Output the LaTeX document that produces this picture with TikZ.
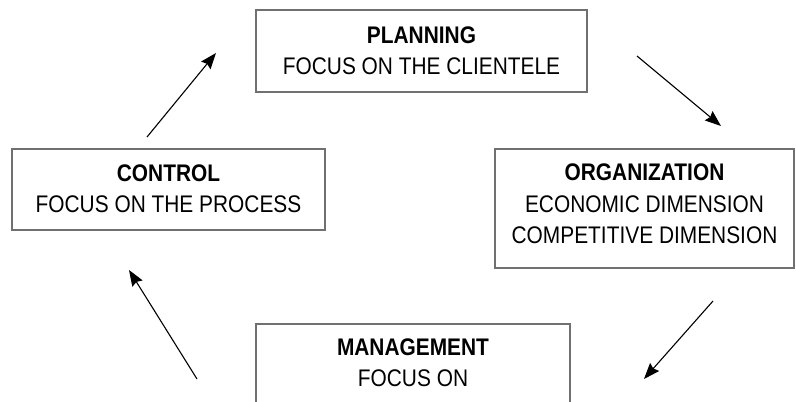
\documentclass[tikz,border=0pt]{standalone}
\usepackage{fontspec}
\setmainfont{Liberation Sans}[FakeStretch=0.87]
\usetikzlibrary{arrows.meta}
\definecolor{boxgray}{HTML}{707070}
\tikzset{
  box/.style={draw=boxgray, line width=2pt, rectangle, inner sep=0pt},
  label/.style={align=center, inner sep=0pt, font=\fontsize{24}{31.5}\selectfont},
  flow/.style={draw=black, line width=1.1pt, -{Stealth[length=16pt,width=12pt,inset=2pt]}},
}
\begin{document}
\begin{tikzpicture}[x=1pt,y=-1pt]
\useasboundingbox (0,0) rectangle (796,402);
\clip (0,0) rectangle (796,402);
\node[box, minimum width=331pt, minimum height=82pt] (plan) at (421.5,51) {};
\node[label] (plantext) at (421.5,50.5) {\textbf{PLANNING}\\FOCUS ON THE CLIENTELE};
\node[box, minimum width=299pt, minimum height=119pt] (org) at (644.5,208.5) {};
\node[label] (orgtext) at (644.5,204)
  {\textbf{ORGANIZATION}\\ECONOMIC DIMENSION\\COMPETITIVE DIMENSION};
\node[box, minimum width=313pt, minimum height=81pt] (ctrl) at (168.5,189.5) {};
\node[label] (ctrltext) at (168.5,188.5) {\textbf{CONTROL}\\FOCUS ON THE PROCESS};
\node[box, minimum width=314pt, minimum height=130pt, anchor=north] (mgmt) at (413,323) {};
\node[label] (mgmttext) at (413,362.5) {\textbf{MANAGEMENT}\\FOCUS ON};
\coordinate (a1s) at (637,56);
\coordinate (a1e) at (721,126);
\coordinate (a2s) at (713,301);
\coordinate (a2e) at (644,379);
\coordinate (a3s) at (197,379);
\coordinate (a3e) at (129,270);
\coordinate (a4s) at (147,137);
\coordinate (a4e) at (216,53);
\draw[flow] (a1s) -- (a1e);
\draw[flow] (a2s) -- (a2e);
\draw[flow] (a3s) -- (a3e);
\draw[flow] (a4s) -- (a4e);
\end{tikzpicture}
\end{document}
